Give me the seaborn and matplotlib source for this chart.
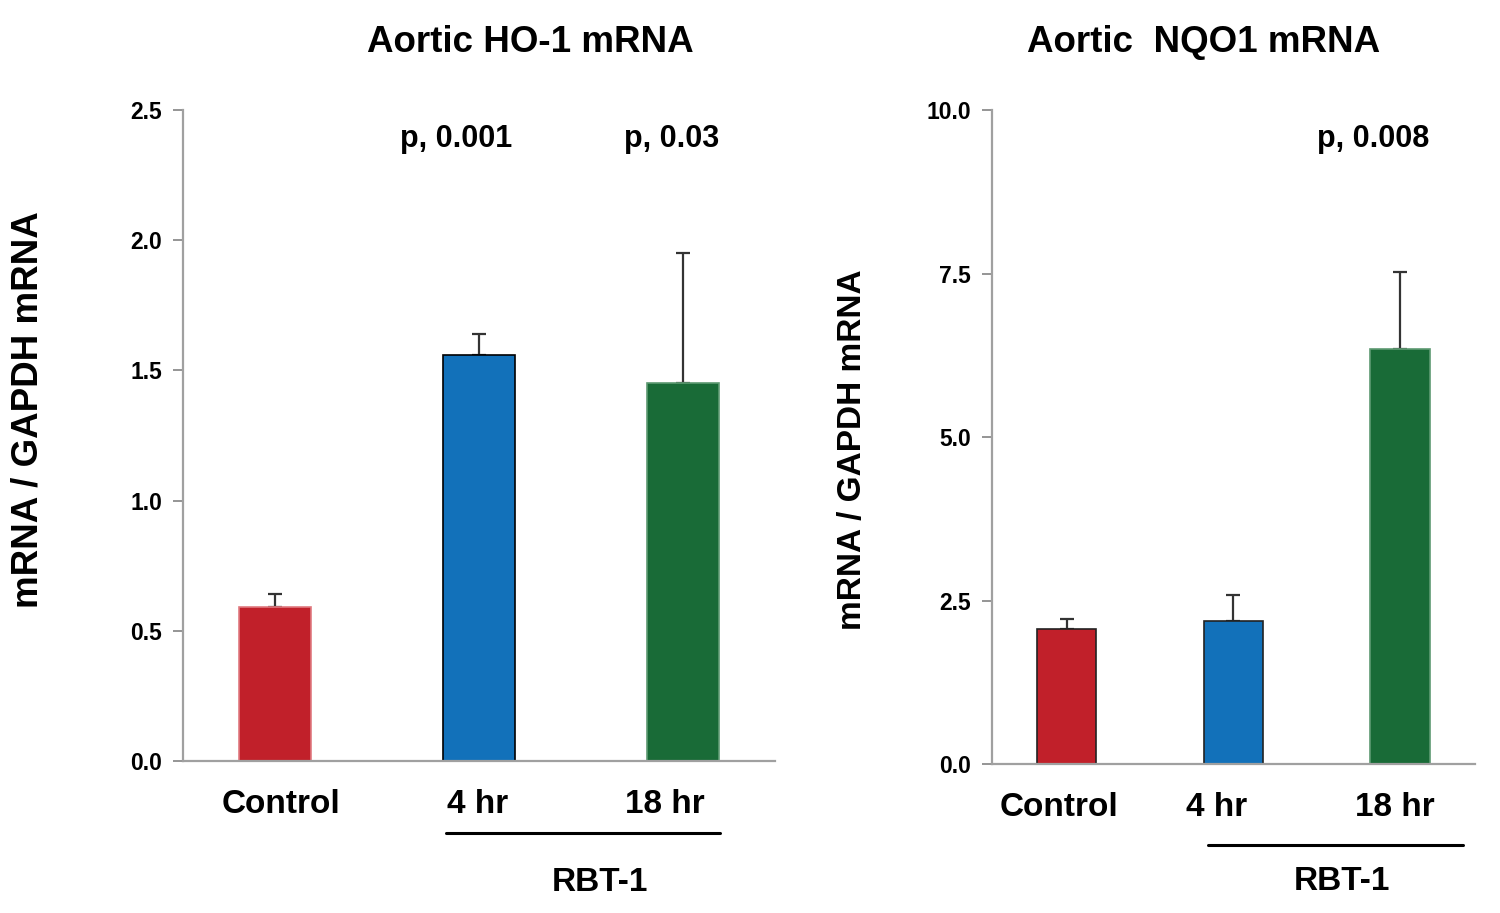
import matplotlib
matplotlib.use("Agg")
import matplotlib.pyplot as plt
import seaborn as sns
import pandas as pd
import numpy as np

# ---- data ----
categories = ["Control", "4 hr", "18 hr"]
ho1_mean = [0.59, 1.56, 1.45]
ho1_err = [0.05, 0.08, 0.50]
nqo1_mean = [2.07, 2.18, 6.34]
nqo1_err = [0.15, 0.41, 1.19]
ho1_pvals = {"4 hr": "p, 0.001", "18 hr": "p, 0.03"}
nqo1_pvals = {"18 hr": "p, 0.008"}
ho1_ticks = [0.0, 0.5, 1.0, 1.5, 2.0, 2.5]
nqo1_ticks = [0.0, 2.5, 5.0, 7.5, 10.0]
titles = ["Aortic HO-1 mRNA", "Aortic  NQO1 mRNA"]
ylabel = "mRNA / GAPDH mRNA"
group_label = "RBT-1"

# ---- style ----
bar_colors = ["#C1202A", "#1271BA", "#196B37"]
sns.set_theme(style="white")
plt.rcParams["font.family"] = ["Liberation Sans", "DejaVu Sans"]
plt.rcParams["font.weight"] = "bold"
plt.rcParams["text.color"] = "black"
plt.rcParams["xtick.color"] = "black"
plt.rcParams["ytick.color"] = "black"
plt.rcParams["axes.labelcolor"] = "black"

fig = plt.figure(figsize=(15, 9.13), dpi=100)
axL = fig.add_axes([0.122, 0.1665, 0.3947, 0.713])
axR = fig.add_axes([0.6613, 0.1632, 0.322, 0.7163])


def draw(ax, means, errs, ticks, ymax, edges, pvals, pval_dx, label_dx,
         ylab_size, ylab_x, ylab_y, line_x, line_y, text_x, text_y):
    df = pd.DataFrame({"cat": categories, "val": means})
    sns.barplot(data=df, x="cat", y="val", hue="cat", palette=bar_colors,
                order=categories, hue_order=categories, width=0.355,
                saturation=1, legend=False, ax=ax, errorbar=None)
    for p, ec in zip(ax.patches, edges):
        p.set_edgecolor(ec)
        p.set_linewidth(1.2)
        p.set_zorder(2)
    xs = np.arange(len(categories))
    ax.errorbar(xs, means, yerr=[np.zeros(len(errs)), errs], fmt="none",
                ecolor="#333333", elinewidth=1.6, capsize=5, capthick=1.6,
                zorder=1)
    ax.set_xlim(-0.45, 2.45)
    ax.set_ylim(0, ymax)
    ax.set_yticks(ticks)
    ax.set_yticklabels([f"{t:.1f}" for t in ticks], fontsize=16.5,
                       fontweight="bold")
    ax.set_xticks(xs + np.array(label_dx))
    ax.set_xticklabels(categories, fontsize=24, fontweight="bold")
    ax.tick_params(axis="x", length=0, pad=20)
    ax.tick_params(axis="y", length=7, width=1.3, color="#8c8c8c",
                   labelcolor="black", direction="out", pad=8, left=True)
    for s in ["top", "right"]:
        ax.spines[s].set_visible(False)
    for s in ["left", "bottom"]:
        ax.spines[s].set_color("#a0a0a0")
        ax.spines[s].set_linewidth(1.6)
    ax.set_xlabel("")
    ax.set_ylabel(ylabel, fontsize=ylab_size, fontweight="bold", va="center")
    ax.yaxis.set_label_coords(ylab_x, ylab_y)
    for (cat, txt), dx in zip(pvals.items(), pval_dx):
        ax.text(categories.index(cat) + dx, ymax * 0.955, txt, ha="center",
                va="center", fontsize=22, fontweight="bold")
    tr = ax.get_xaxis_transform()
    ax.plot(line_x, [line_y, line_y], color="black", lw=2.2, transform=tr,
            clip_on=False)
    ax.text(text_x, text_y, group_label, transform=tr, ha="center",
            va="center", fontsize=24, fontweight="bold")


draw(axL, ho1_mean, ho1_err, ho1_ticks, 2.5,
     ["#e07a80", "black", "#5e9a72"], ho1_pvals, [-0.11, -0.055],
     [0.03, -0.005, -0.09], 26.5, -0.262, 0.54,
     [0.84, 2.18], -0.111, 1.59, -0.186)
draw(axR, nqo1_mean, nqo1_err, nqo1_ticks, 10.0,
     ["#222222", "#222222", "#5e9a72"], nqo1_pvals, [-0.16],
     [-0.05, -0.1, -0.03], 24, -0.288, 0.48,
     [0.85, 2.38], -0.124, 1.65, -0.180)

fig.text(530 / 1500, 1 - 42 / 913, titles[0], ha="center", va="center",
         fontsize=26.5, fontweight="bold")
fig.text(1204 / 1500, 1 - 42 / 913, titles[1], ha="center", va="center",
         fontsize=26.5, fontweight="bold")

fig.savefig("out.png", dpi=100, facecolor="white")
